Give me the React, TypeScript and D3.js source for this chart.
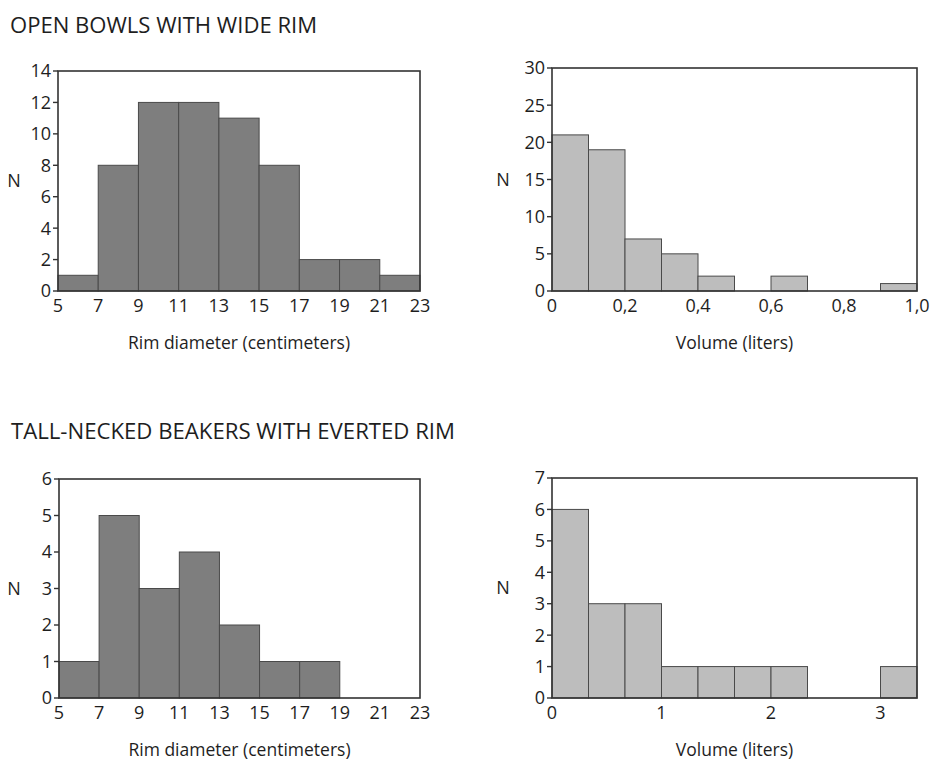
import React from "react";
import * as d3 from "d3";

const rimEdges = [5, 7, 9, 11, 13, 15, 17, 19, 21, 23];
const rimTicks = [5, 7, 9, 11, 13, 15, 17, 19, 21, 23];

const bowlRimCounts = [1, 8, 12, 12, 11, 8, 2, 2, 1];
const bowlRimYTicks = [0, 2, 4, 6, 8, 10, 12, 14];

const bowlVolEdges = [0, 0.1, 0.2, 0.3, 0.4, 0.5, 0.6, 0.7, 0.8, 0.9, 1.0];
const bowlVolCounts = [21, 19, 7, 5, 2, 0, 2, 0, 0, 1];
const bowlVolXTicks = [0, 0.2, 0.4, 0.6, 0.8, 1.0];
const bowlVolYTicks = [0, 5, 10, 15, 20, 25, 30];

const beakerRimCounts = [1, 5, 3, 4, 2, 1, 1, 0, 0];
const beakerRimYTicks = [0, 1, 2, 3, 4, 5, 6];

const beakerVolEdges = [0, 1 / 3, 2 / 3, 1, 4 / 3, 5 / 3, 2, 7 / 3, 8 / 3, 3, 10 / 3];
const beakerVolCounts = [6, 3, 3, 1, 1, 1, 1, 0, 0, 1];
const beakerVolXTicks = [0, 1, 2, 3];
const beakerVolYTicks = [0, 1, 2, 3, 4, 5, 6, 7];

const titles = ["OPEN BOWLS WITH WIDE RIM", "TALL-NECKED BEAKERS WITH EVERTED RIM"];

const FONT = "'Open Sans', 'Noto Sans', sans-serif";
const INK = "#1e1e1e";
const DARK = "#7e7e7e";
const LIGHT = "#bdbdbd";

type HistProps = {
  left: number;
  top: number;
  right: number;
  bottom: number;
  edges: number[];
  counts: number[];
  xDomain: [number, number];
  yDomain: [number, number];
  xTicks: number[];
  yTicks: number[];
  xFormat: (d: number) => string;
  fill: string;
  xLabel: string;
  nX: number;
};

const Histogram = (p: HistProps) => {
  const x = d3.scaleLinear().domain(p.xDomain).range([p.left, p.right]);
  const y = d3.scaleLinear().domain(p.yDomain).range([p.bottom, p.top]);
  const bins = p.counts.map((c, i) => ({ x0: p.edges[i], x1: p.edges[i + 1], c }));

  return (
    <g fontFamily={FONT} fill={INK}>
      {bins.filter(b => b.c > 0).map((b, i) => (
        <rect
          key={i}
          x={x(b.x0)}
          y={y(b.c)}
          width={x(b.x1) - x(b.x0)}
          height={y(0) - y(b.c)}
          fill={p.fill}
          stroke="#4a4a4a"
          strokeWidth={1}
        />
      ))}
      <rect
        x={p.left}
        y={p.top}
        width={p.right - p.left}
        height={p.bottom - p.top}
        fill="none"
        stroke="#333"
        strokeWidth={1.6}
      />
      {p.yTicks.map(t => (
        <g key={t}>
          <line x1={p.left - 5} x2={p.left} y1={y(t)} y2={y(t)} stroke="#333" strokeWidth={1.4} />
          <text x={p.left - 7} y={y(t)} dy="0.36em" textAnchor="end" fontSize={18}>
            {t}
          </text>
        </g>
      ))}
      {p.xTicks.map(t => (
        <text key={t} x={x(t)} y={p.bottom + 21} textAnchor="middle" fontSize={18}>
          {p.xFormat(t)}
        </text>
      ))}
      <text x={(p.left + p.right) / 2} y={p.bottom + 58} textAnchor="middle" fontSize={17.5}>
        {p.xLabel}
      </text>
      <text x={p.nX} y={(p.top + p.bottom) / 2} dy="0.36em" textAnchor="middle" fontSize={18}>
        N
      </text>
    </g>
  );
};

const comma = (d: number) => (d === 0 ? "0" : d3.format(".1f")(d).replace(".", ","));
const plain = (d: number) => String(d);

export default function App() {
  return (
    <svg
      width={931}
      height={760}
      style={{ position: "absolute", left: 0, top: 0, background: "#fff" }}
    >
      <rect width={931} height={760} fill="#fff" />
      <text x={10} y={33} fontFamily={FONT} fontSize={21} fill={INK} textLength={307} lengthAdjust="spacingAndGlyphs">
        {titles[0]}
      </text>
      <text x={11} y={439} fontFamily={FONT} fontSize={21} fill={INK} textLength={444} lengthAdjust="spacingAndGlyphs">
        {titles[1]}
      </text>

      <Histogram
        left={58} top={71} right={420} bottom={291}
        edges={rimEdges} counts={bowlRimCounts}
        xDomain={[5, 23]} yDomain={[0, 14]}
        xTicks={rimTicks} yTicks={bowlRimYTicks}
        xFormat={plain} fill={DARK}
        xLabel="Rim diameter (centimeters)" nX={14}
      />
      <Histogram
        left={552} top={68} right={917} bottom={291}
        edges={bowlVolEdges} counts={bowlVolCounts}
        xDomain={[0, 1]} yDomain={[0, 30]}
        xTicks={bowlVolXTicks} yTicks={bowlVolYTicks}
        xFormat={comma} fill={LIGHT}
        xLabel="Volume (liters)" nX={503}
      />
      <Histogram
        left={59} top={479} right={420} bottom={698}
        edges={rimEdges} counts={beakerRimCounts}
        xDomain={[5, 23]} yDomain={[0, 6]}
        xTicks={rimTicks} yTicks={beakerRimYTicks}
        xFormat={plain} fill={DARK}
        xLabel="Rim diameter (centimeters)" nX={14}
      />
      <Histogram
        left={552} top={478} right={917} bottom={698}
        edges={beakerVolEdges} counts={beakerVolCounts}
        xDomain={[0, 10 / 3]} yDomain={[0, 7]}
        xTicks={beakerVolXTicks} yTicks={beakerVolYTicks}
        xFormat={plain} fill={LIGHT}
        xLabel="Volume (liters)" nX={503}
      />
    </svg>
  );
}
